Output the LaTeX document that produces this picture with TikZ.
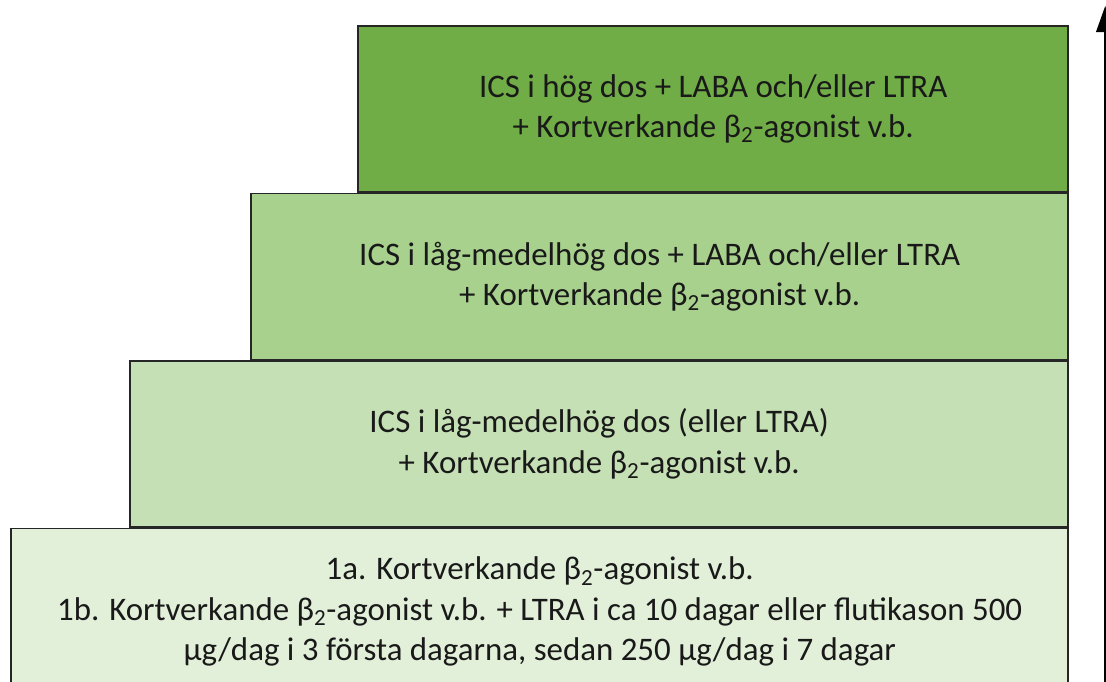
\documentclass[tikz,border=0pt]{standalone}
\usepackage{fontspec}
\setmainfont{Carlito}
\usetikzlibrary{positioning,arrows.meta}

\definecolor{greenDark}{HTML}{70AD47}
\definecolor{greenMid}{HTML}{A9D18E}
\definecolor{greenLight}{HTML}{C5E0B4}
\definecolor{greenPale}{HTML}{E2F0D9}

\tikzset{
  levelBox/.style={rectangle, draw=black!85, line width=1.1pt, align=center,
    minimum height=4.15cm, inner sep=0pt, anchor=north east,
    text=black!90, font=\fontsize{23.4}{28.6}\selectfont},
}
\newcommand{\betaTwo}{β\textsubscript{2}}

\begin{document}
\begin{tikzpicture}
        \useasboundingbox (0,0) rectangle (27.65,-17.025);

        \node[levelBox, fill=greenDark, minimum width=17.75cm] (level4Node) at (26.725,-0.625)
          {ICS i hög dos + LABA och/eller LTRA\\+ Kortverkande \betaTwo-agonist v.b.};
        \node[levelBox, fill=greenMid, minimum width=20.425cm] (level3Node) at (level4Node.south east)
          {ICS i låg-medelhög dos + LABA och/eller LTRA\\+ Kortverkande \betaTwo-agonist v.b.};
        \node[levelBox, fill=greenLight, minimum width=23.45cm] (level2Node) at (level3Node.south east)
          {ICS i låg-medelhög dos (eller LTRA)\\+ Kortverkande \betaTwo-agonist v.b.};
        \node[levelBox, fill=greenPale, minimum width=26.425cm] (level1Node) at (level2Node.south east)
          {1a. Kortverkande \betaTwo-agonist v.b.\\1b. Kortverkande \betaTwo-agonist v.b. + LTRA i ca 10 dagar eller flutikason 500\\µg/dag i 3 första dagarna, sedan 250 µg/dag i 7 dagar};

        \coordinate (arrowBase) at (27.63,-17.2);
        \coordinate (arrowTip) at (27.63,-0.15);
        \draw[-{Triangle[length=0.65cm,width=0.45cm]}, line width=1.3pt] (arrowBase) -- (arrowTip);
      \end{tikzpicture}
\end{document}
